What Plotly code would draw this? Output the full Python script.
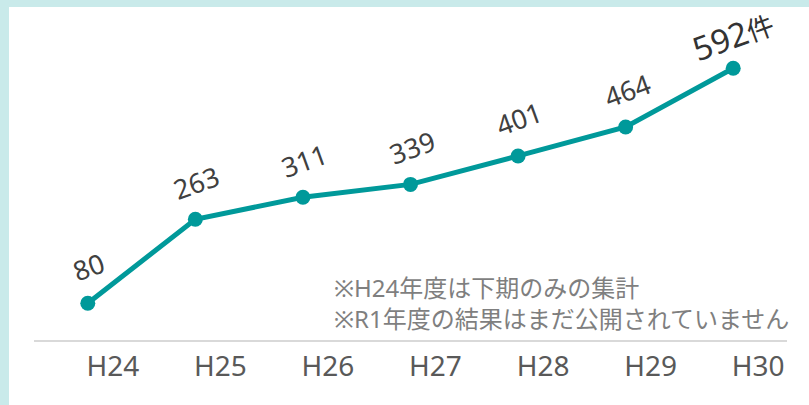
import plotly.graph_objects as go

categories = ["H24", "H25", "H26", "H27", "H28", "H29", "H30"]
values = [80, 263, 311, 339, 401, 464, 592]
value_labels = ["80", "263", "311", "339", "401", "464", "<span style='font-size:33px'>592</span>件"]
note_text = "※H24年度は下期のみの集計<br>※R1年度の結果はまだ公開されていません"

TEAL = "#00999a"
FONT = "Noto Sans, Noto Sans CJK JP, sans-serif"

fig = go.Figure()
fig.add_trace(go.Scatter(
    x=categories, y=values, mode="lines+markers",
    line=dict(color=TEAL, width=5),
    marker=dict(color=TEAL, size=15),
    hoverinfo="skip",
))

annotations = []
for i, (c, v, t) in enumerate(zip(categories, values, value_labels)):
    last = i == len(categories) - 1
    annotations.append(dict(
        x=c, y=v, xref="x", yref="y", text=t, showarrow=False,
        textangle=-20, xanchor="center", yanchor="middle",
        yshift=33 if last else 37, xshift=0 if last else 1,
        font=dict(family=FONT, size=27, color="#333333" if last else "#404040"),
    ))
annotations.append(dict(
    x=(332 - 34) / 753, y=(340 - 303) / 332, xref="paper", yref="paper",
    text=note_text, showarrow=False, xanchor="left", yanchor="middle", align="left",
    font=dict(family=FONT, size=24, color="#7f7f7f"),
))

fig.update_layout(
    width=809, height=405,
    margin=dict(l=34, r=22, t=8, b=65),
    paper_bgcolor="white", plot_bgcolor="white",
    showlegend=False,
    annotations=annotations,
    shapes=[
        dict(type="rect", xref="paper", yref="paper", xsizemode="pixel", xanchor=0,
             ysizemode="pixel", yanchor=0, x0=-40, x1=-25, y0=-200, y1=600,
             fillcolor="#c9eaea", line=dict(width=0), layer="above"),
        dict(type="rect", xref="paper", yref="paper", xsizemode="pixel", xanchor=0,
             ysizemode="pixel", yanchor=1, x0=-40, x1=800, y0=1, y1=30,
             fillcolor="#c9eaea", line=dict(width=0), layer="above"),
    ],
    xaxis=dict(
        type="category", range=[-0.5, 6.5], showgrid=False, zeroline=False,
        showline=True, linecolor="#d9d9d9", linewidth=2, ticks="",
        tickfont=dict(family=FONT, size=28, color="#595959"),
        ticklabelshift=25, ticklabelstandoff=0,
    ),
    yaxis=dict(range=[0, 723.3], visible=False, showgrid=False, zeroline=False),
)

fig.write_html("out.html", config={"displayModeBar": False},
               post_script="document.body.style.margin='0px';document.body.style.padding='0px';")
